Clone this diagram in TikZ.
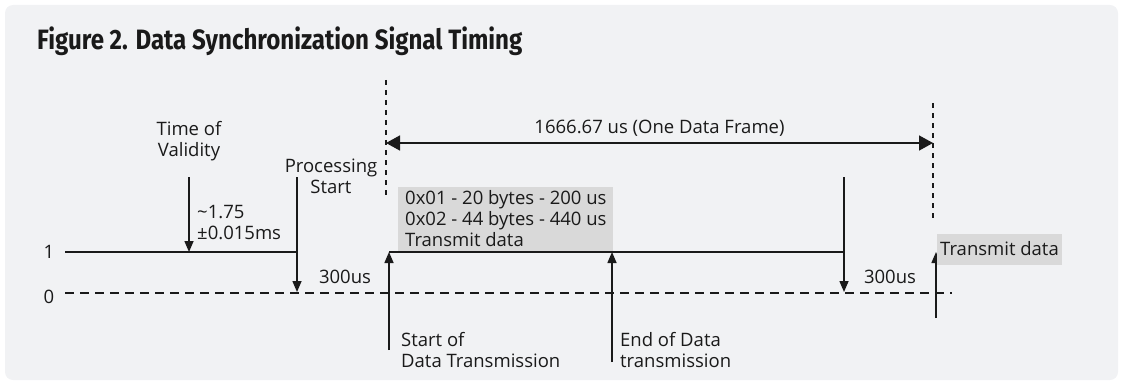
\documentclass[tikz,border=0pt]{standalone}
\usepackage{fontspec}
\setmainfont{Open Sans}
\newfontfamily\titlefont[FakeStretch=0.86]{Fira Sans}
\usetikzlibrary{positioning, arrows, arrows.meta}
\definecolor{panelgray}{HTML}{F1F2F4}
\definecolor{boxgray}{HTML}{D9D9D9}
\definecolor{inkblack}{HTML}{1A1A1A}
\tikzset{
signal/.style={line width=1.5pt, draw=inkblack}, % plain signal lines
pulse/.style={signal, -{Triangle[length=11pt,width=9pt]}}, % arrows on the edges
framemark/.style={line width=1.6pt, draw=inkblack, dash pattern=on 5pt off 5pt}, % frame limits
zeroline/.style={line width=1.5pt, draw=inkblack, dash pattern=on 9pt off 6pt}, % level 0
lbl/.style={font=\fontsize{18.5}{21}\selectfont, text=inkblack, inner sep=0pt}, % every label
shade/.style={lbl, fill=boxgray, inner xsep=7pt, inner ysep=4pt}, % grey text boxes
}

\begin{document}
\begin{tikzpicture}[x=1pt, y=-1pt]
        \useasboundingbox (0,0) rectangle (1124,385);
        \fill[panelgray, rounded corners=8pt] (5,5) rectangle (1118,380);

        \node[anchor=base west, inner sep=0pt, text=inkblack,
              font=\titlefont\bfseries\fontsize{28}{30}\selectfont] (title) at (37,50)
              {Figure 2. Data Synchronization Signal Timing};

        % levels
        \node[lbl] (one) at (49,252) {1};
        \node[lbl] (zero) at (49,297) {0};
        \coordinate (one start) at (65,252);
        \coordinate (zero start) at (65,293);
        \coordinate (zero end) at (952,293);

        % edge points
        \coordinate (tov top) at (189,177);
        \coordinate (tov) at (189,252);
        \coordinate (ps top) at (297,177);
        \coordinate (ps) at (297,292);
        \coordinate (sdt low) at (389,350);
        \coordinate (sdt) at (389,252);
        \coordinate (edt low) at (612,362);
        \coordinate (edt) at (612,252);
        \coordinate (fall top) at (844,177);
        \coordinate (fall) at (844,292);
        \coordinate (next low) at (936,318);
        \coordinate (next) at (936,252);

        % frame limits
        \coordinate (fa top) at (386,80);
        \coordinate (fa low) at (386,195);
        \coordinate (fb top) at (933,103);
        \coordinate (fb low) at (933,219);
        \coordinate (fa mid) at (386,143);
        \coordinate (fb mid) at (933,143);

        \draw[zeroline] (zero start) -- (zero end);
        \draw[signal] (one start) -- (ps top |- one start);
        \draw[signal] (sdt) -- (fall top |- sdt);
        \draw[framemark] (fa top) -- (fa low);
        \draw[framemark] (fb top) -- (fb low);
        \draw[signal, {Triangle[length=14pt,width=15pt]}-{Triangle[length=14pt,width=15pt]}]
              (fa mid) -- node[lbl, above=6pt] (frame) {1666.67 us (One Data Frame)} (fb mid);

        \draw[pulse] (tov top) -- (tov);
        \draw[pulse] (ps top) -- (ps);
        \draw[pulse] (sdt low) -- (sdt);
        \draw[pulse] (edt low) -- (edt);
        \draw[pulse] (fall top) -- (fall);
        \draw[pulse] (next low) -- (next);

        % labels
        \node[lbl, align=center] (validity) at (189,141) {Time of\\Validity};
        \node[lbl, anchor=west, align=left] (delay) at (197,223) {\textasciitilde1.75\\±0.015ms};
        \node[lbl, align=center] (procstart) at (331,176) {Processing\\Start};
        \node[lbl] (gap a) at (345,277) {300us};
        \node[lbl] (gap b) at (890,277) {300us};
        \node[shade, anchor=south west, align=left] (payload) at (398,251)
              {0x01 - 20 bytes - 200 us\\0x02 - 44 bytes - 440 us\\Transmit data};
        \node[lbl, anchor=west, align=left] (start) at (401,350) {Start of\\Data Transmission};
        \node[lbl, anchor=west, align=left] (end) at (620,350) {End of Data\\transmission};
        \node[shade, anchor=west, minimum height=31pt, inner xsep=3pt] (again) at (937,249) {Transmit data};
      \end{tikzpicture}
\end{document}
